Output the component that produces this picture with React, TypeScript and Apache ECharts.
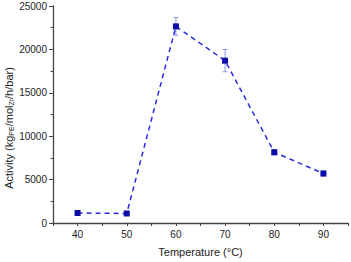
import React, { useEffect, useRef } from "react";
import * as echarts from "echarts";

const temperatures = [40, 50, 60, 70, 80, 90];
const activity = [1150, 1100, 22650, 18700, 8150, 5700];
const errors = [80, 80, 1020, 1280, 300, 280];
const xTicks = [35, 95, 5];
const yTicks = [0, 25000, 5000];
const yName = "Activity (kg{sub|PE}/mol{sub|Zr}/h/bar)";

export default function App() {
  const ref = useRef<HTMLDivElement>(null);
  useEffect(() => {
    const chart = echarts.init(ref.current!, null, { renderer: "svg" });
    const axisColor = "#444";
    const font = "Liberation Sans, Arial, sans-serif";
    chart.setOption({
      animation: false,
      grid: { left: 53, right: 3, top: 6, bottom: 39, containLabel: false, outerBoundsMode: "none" },
      graphic: [
        {
          type: "text",
          x: 9,
          y: 128,
          rotation: Math.PI / 2,
          style: {
            text: yName,
            fontFamily: font,
            fontSize: 11,
            fill: "#222",
            align: "center",
            verticalAlign: "middle",
            rich: {
              sub: { fontFamily: font, fontSize: 7, fill: "#222", padding: [5, 0, 0, 0] },
            },
          },
        },
      ],
      xAxis: {
        type: "value",
        min: xTicks[0],
        max: xTicks[1],
        interval: xTicks[2],
        name: "Temperature (°C)",
        nameLocation: "middle",
        nameGap: 23,
        nameTextStyle: { fontFamily: font, fontSize: 11, color: "#222" },
        axisLine: { show: true, onZero: false, lineStyle: { color: axisColor, width: 1.3 } },
        axisTick: { show: true, length: 3, lineStyle: { color: axisColor } },
        axisLabel: {
          margin: 6,
          fontFamily: font,
          fontSize: 10,
          color: "#222",
          formatter: (v: number) => (v % 10 === 0 ? String(v) : ""),
        },
        splitLine: { show: false },
      },
      yAxis: {
        type: "value",
        min: yTicks[0],
        max: yTicks[1],
        interval: yTicks[2],
        axisLine: { show: true, lineStyle: { color: axisColor, width: 1.3 } },
        axisTick: { show: true, length: 4, lineStyle: { color: axisColor } },
        minorTick: { show: true, splitNumber: 2, length: 2.5, lineStyle: { color: axisColor } },
        axisLabel: {
          margin: 6,
          fontFamily: font,
          fontSize: 10,
          color: "#222",
          formatter: (v: number) => String(v),
        },
        splitLine: { show: false },
      },
      series: [
        {
          type: "custom",
          data: temperatures.map((t, i) => [t, activity[i] - errors[i], activity[i] + errors[i]]),
          renderItem: (params: any, api: any) => {
            const lo = api.coord([api.value(0), api.value(1)]);
            const hi = api.coord([api.value(0), api.value(2)]);
            const w = 2.5;
            const style = { stroke: "#8c96f0", lineWidth: 1 };
            return {
              type: "group",
              children: [
                { type: "line", shape: { x1: lo[0], y1: lo[1], x2: hi[0], y2: hi[1] }, style },
                { type: "line", shape: { x1: lo[0] - w, y1: lo[1], x2: lo[0] + w, y2: lo[1] }, style },
                { type: "line", shape: { x1: hi[0] - w, y1: hi[1], x2: hi[0] + w, y2: hi[1] }, style },
              ],
            };
          },
          z: 1,
        },
        {
          type: "line",
          data: temperatures.map((t, i) => [t, activity[i]]),
          lineStyle: { color: "#2a2ae6", width: 1.5, type: [5, 4] },
          symbol: "rect",
          symbolSize: 6,
          itemStyle: { color: "#0b0ba8" },
          z: 2,
        },
      ],
    });
    return () => chart.dispose();
  }, []);
  return <div ref={ref} style={{ width: 351, height: 262, position: "absolute", left: 0, top: 0 }} />;
}
